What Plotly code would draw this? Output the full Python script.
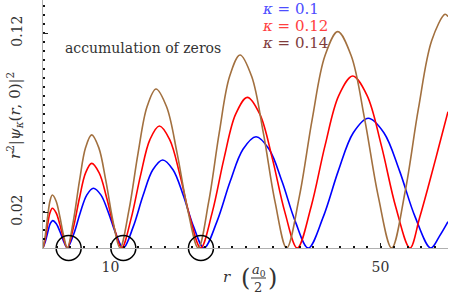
import plotly.graph_objects as go

# kappa = 0.1 (blue)
r_k010 = [0, 0.36, 0.72, 1.07, 1.43, 1.97, 2.52, 3.06, 3.6,
          4.57, 5.53, 6.5, 7.46, 8.57, 9.68, 10.79, 11.9,
          13.36, 14.82, 16.27, 17.73, 19.26, 20.79, 22.32, 23.85,
          25.78, 27.71, 29.63, 31.56, 33.5, 35.43, 37.37, 39.3,
          41.52, 43.75, 45.97, 48.19, 50.5, 52.82, 55.13, 57.44,
          58.72, 60.0]
y_k010 = [0, 0.0037, 0.0091, 0.0136, 0.0153, 0.0136, 0.0091, 0.0037, 0,
          0.008, 0.0199, 0.0297, 0.0334, 0.0297, 0.0199, 0.008, 0,
          0.0118, 0.0293, 0.0437, 0.0492, 0.0437, 0.0293, 0.0118, 0,
          0.0149, 0.037, 0.0552, 0.0622, 0.0552, 0.037, 0.0149, 0,
          0.0174, 0.0431, 0.0644, 0.0725, 0.0644, 0.0431, 0.0174, 0,
          0.0065, 0.0147]
# kappa = 0.12 (red)
r_k012 = [0, 0.345, 0.69, 1.035, 1.38, 1.935, 2.49, 3.045, 3.6,
          4.5, 5.41, 6.31, 7.21, 8.32, 9.43, 10.54, 11.65,
          13.05, 14.45, 15.84, 17.24, 18.77, 20.3, 21.83, 23.36,
          25.09, 26.82, 28.54, 30.27, 32.12, 33.97, 35.82, 37.67,
          39.72, 41.78, 43.83, 45.88, 48.0, 50.13, 52.25, 54.37,
          55.8, 57.2, 58.6, 60.0]
y_k012 = [0, 0.0053, 0.0132, 0.0197, 0.0222, 0.0197, 0.0132, 0.0053, 0,
          0.0114, 0.0281, 0.042, 0.0473, 0.042, 0.0281, 0.0114, 0,
          0.0164, 0.0406, 0.0606, 0.0682, 0.0606, 0.0406, 0.0164, 0,
          0.0202, 0.0501, 0.0748, 0.0842, 0.0748, 0.0501, 0.0202, 0,
          0.0231, 0.0572, 0.0853, 0.0961, 0.0853, 0.0572, 0.0231, 0,
          0.017, 0.036, 0.056, 0.0762]
# kappa = 0.14 (brown)
r_k014 = [0, 0.345, 0.69, 1.035, 1.38, 1.935, 2.49, 3.045, 3.6,
          4.5, 5.41, 6.31, 7.21, 8.26, 9.31, 10.36, 11.41,
          12.74, 14.08, 15.41, 16.74, 18.31, 19.87, 21.44, 23.0,
          24.55, 26.1, 27.64, 29.19, 30.92, 32.65, 34.37, 36.1,
          37.99, 39.88, 41.77, 43.66, 45.66, 47.66, 49.66, 51.66,
          53.64, 55.61, 57.59, 59.56, 60.0]
y_k014 = [0, 0.0071, 0.0176, 0.0263, 0.0296, 0.0263, 0.0176, 0.0071, 0,
          0.0152, 0.0376, 0.0561, 0.0632, 0.0561, 0.0376, 0.0152, 0,
          0.0213, 0.0529, 0.0789, 0.0889, 0.0789, 0.0529, 0.0213, 0,
          0.0259, 0.0642, 0.0958, 0.1079, 0.0958, 0.0642, 0.0259, 0,
          0.029, 0.0719, 0.1074, 0.1209, 0.1074, 0.0719, 0.029, 0,
          0.0313, 0.0777, 0.116, 0.1306, 0.1293]

circle_r = [3.8, 11.9, 23.4]
circle_y = [0, 0, 0]

x_tickvals = [10, 50]
x_ticktext = ["10", "50"]
y_tickvals = [0.02, 0.12]
y_ticktext = ["0.02", "0.12"]

legend_labels = ["<i>κ</i> = 0.1", "<i>κ</i> = 0.12", "<i>κ</i> = 0.14"]

BLUE = "#0000FF"
RED = "#FF0000"
BROWN = "#A2703F"
FONT = "DejaVu Serif"
TXT = "#333333"

fig = go.Figure()
for rr, yy, c in [(r_k010, y_k010, BLUE), (r_k012, y_k012, RED), (r_k014, y_k014, BROWN)]:
    fig.add_trace(go.Scatter(x=rr, y=yy, mode="lines", line=dict(color=c, width=1.6, shape="spline", smoothing=1.0),
                             hoverinfo="skip", showlegend=False))

fig.add_trace(go.Scatter(x=circle_r, y=circle_y, mode="markers",
                         marker=dict(symbol="circle-open", size=25, color="black", line=dict(color="black", width=1.5)),
                         cliponaxis=False, showlegend=False, hoverinfo="skip"))

fig.update_layout(
    width=458, height=294,
    margin=dict(l=43, r=10, t=0, b=46, autoexpand=False),
    plot_bgcolor="white", paper_bgcolor="white",
    font=dict(family=FONT, size=14, color=TXT),
    hovermode=False,
    xaxis=dict(range=[0, 60], automargin=False, showgrid=False, zeroline=False, showline=True,
               linecolor="#b0b0b0", linewidth=1,
               tickmode="array", tickvals=x_tickvals, ticktext=x_ticktext, ticks="inside", ticklen=5,
               tickcolor="#222", tickwidth=1, ticklabelstandoff=6,
               tickfont=dict(family=FONT, size=14, color=TXT),
               minor=dict(dtick=2, tick0=0, ticks="inside", ticklen=2, tickwidth=2, tickcolor="#111")),
    yaxis=dict(range=[0, 0.1386], automargin=False, showgrid=False, zeroline=False, showline=True,
               linecolor="#b0b0b0", linewidth=1,
               tickmode="array", tickvals=y_tickvals, ticktext=y_ticktext, ticks="inside", ticklen=5,
               tickcolor="#222", tickwidth=1, tickangle=-90, ticklabelstandoff=14,
               tickfont=dict(family=FONT, size=14, color=TXT),
               minor=dict(dtick=0.005, tick0=0, ticks="inside", ticklen=2, tickwidth=2, tickcolor="#111")),
)

PW, PH = 405, 248


def px_to_paper(px, py):
    return (px - 43) / PW, (248 - py) / PH


leg_colors = ["#4D4DFF", "#FF4040", "#803C3C"]
leg_py = [9, 26, 43]
for t, c, py in zip(legend_labels, leg_colors, leg_py):
    xp, yp = px_to_paper(260, py)
    fig.add_annotation(x=xp, y=yp, xref="paper", yref="paper", text=t, showarrow=False,
                       xanchor="left", yanchor="middle", font=dict(family=FONT, size=15, color=c))

xp, yp = px_to_paper(143, 48)
fig.add_annotation(x=xp, y=yp, xref="paper", yref="paper", text="accumulation of zeros", showarrow=False,
                   xanchor="center", yanchor="middle", font=dict(family=FONT, size=14, color=TXT))

# y axis title
xp, yp = px_to_paper(14, 116)
fig.add_annotation(x=xp, y=yp, xref="paper", yref="paper",
                   text="<i>r</i><sup>2</sup>|<i>ψ</i><sub><i>κ</i></sub>(<i>r</i>, 0)|<sup>2</sup>",
                   showarrow=False, textangle=-90, xanchor="center", yanchor="middle",
                   font=dict(family=FONT, size=15, color=TXT))

# x axis title pieces
xt = [("<i>r</i>", 227, 277, 15), ("(", 245, 278, 24), (")", 272, 278, 24),
      ("<i>a</i><sub>0</sub>", 259, 270, 13), ("2", 258, 287, 13)]
for txt, px, py, fs in xt:
    xp, yp = px_to_paper(px, py)
    fig.add_annotation(x=xp, y=yp, xref="paper", yref="paper", text=txt, showarrow=False,
                       xanchor="center", yanchor="middle", font=dict(family=FONT, size=fs, color=TXT))
x0p, y0p = px_to_paper(251, 278)
x1p, _ = px_to_paper(266, 278)
fig.add_shape(type="line", xref="paper", yref="paper", x0=x0p, x1=x1p, y0=y0p, y1=y0p,
              line=dict(color=TXT, width=1))

fig.write_html("out.html", config={"displayModeBar": False, "staticPlot": True},
               post_script="document.body.style.margin='0';")
